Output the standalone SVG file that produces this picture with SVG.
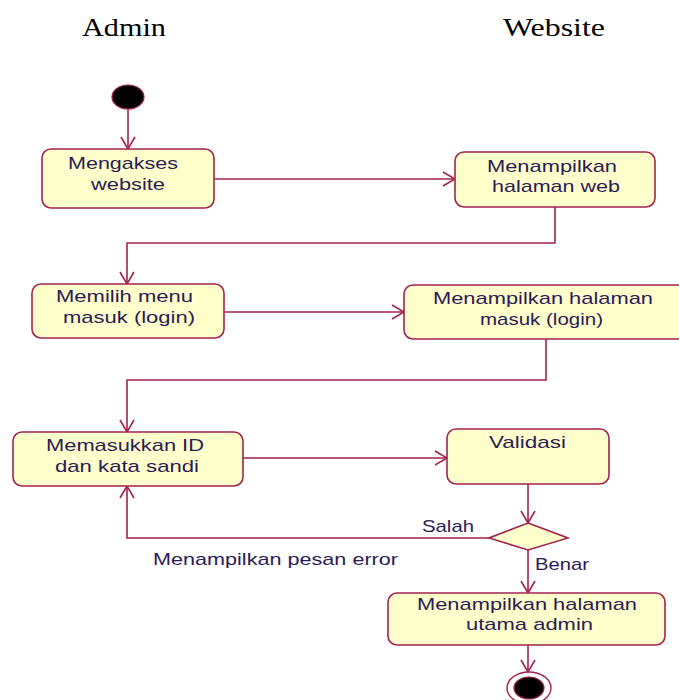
<svg xmlns="http://www.w3.org/2000/svg" width="679" height="700" viewBox="0 0 679 700">
<style>
.node{fill:#FFFFCC;stroke:#A3224F;stroke-width:1.6}
.t{font-family:"Liberation Sans",Arial,sans-serif;font-size:17px;fill:#2B1B55}
.h{font-family:"Liberation Serif","Times New Roman",serif;font-size:26px;fill:#000}
.c{fill:none;stroke:#A3224F;stroke-width:1.6}
.dot{fill:#000;stroke:#A3224F;stroke-width:1.2}
</style>
<defs>
<marker id="arr" markerUnits="userSpaceOnUse" markerWidth="14" markerHeight="16" viewBox="0 0 14 16" refX="13" refY="8" orient="auto">
<path d="M1,1 L13,8 L1,15" fill="none" stroke="#A3224F" stroke-width="1.6"/>
</marker>
</defs>
<rect width="679" height="700" fill="#fff"/>
<text class="h" x="82" y="36" textLength="84" lengthAdjust="spacingAndGlyphs">Admin</text>
<text class="h" x="503" y="36" textLength="102" lengthAdjust="spacingAndGlyphs">Website</text>
<g id="connectors">
<path class="c" d="M128,109 L128,149" marker-end="url(#arr)"/>
<path class="c" d="M214,179 L455,179" marker-end="url(#arr)"/>
<path class="c" d="M555,207 L555,243 L127,243 L127,284" marker-end="url(#arr)"/>
<path class="c" d="M224,312 L404,312" marker-end="url(#arr)"/>
<path class="c" d="M546,339 L546,380 L127,380 L127,432" marker-end="url(#arr)"/>
<path class="c" d="M243,458 L447,458" marker-end="url(#arr)"/>
<path class="c" d="M528,484 L528,523" marker-end="url(#arr)"/>
<path class="c" d="M489,538 L127,538 L127,486" marker-end="url(#arr)"/>
<path class="c" d="M528,550 L528,593" marker-end="url(#arr)"/>
<path class="c" d="M528,645 L528,672" marker-end="url(#arr)"/>
<text class="t" x="422" y="532" textLength="52" lengthAdjust="spacingAndGlyphs">Salah</text>
<text class="t" x="535" y="570" textLength="54" lengthAdjust="spacingAndGlyphs">Benar</text>
<text class="t" x="153" y="565" textLength="245" lengthAdjust="spacingAndGlyphs">Menampilkan pesan error</text>
</g>
<g id="start">
<ellipse class="dot" cx="128" cy="97" rx="16" ry="12"/>
</g>
<g id="n1">
<rect class="node" x="42" y="149" width="172" height="59" rx="9"/>
<text class="t" x="68" y="169" textLength="110" lengthAdjust="spacingAndGlyphs">Mengakses</text>
<text class="t" x="91" y="190" textLength="74" lengthAdjust="spacingAndGlyphs">website</text>
</g>
<g id="n2">
<rect class="node" x="455" y="152" width="200" height="55" rx="9"/>
<text class="t" x="487" y="172" textLength="130" lengthAdjust="spacingAndGlyphs">Menampilkan</text>
<text class="t" x="492" y="192" textLength="128" lengthAdjust="spacingAndGlyphs">halaman web</text>
</g>
<g id="n3">
<rect class="node" x="32" y="284" width="192" height="54" rx="9"/>
<text class="t" x="56" y="302" textLength="137" lengthAdjust="spacingAndGlyphs">Memilih menu</text>
<text class="t" x="63" y="323" textLength="132" lengthAdjust="spacingAndGlyphs">masuk (login)</text>
</g>
<g id="n4">
<rect class="node" x="404" y="285" width="285" height="54" rx="9"/>
<text class="t" x="433" y="304" textLength="220" lengthAdjust="spacingAndGlyphs">Menampilkan halaman</text>
<text class="t" x="480" y="325" textLength="123" lengthAdjust="spacingAndGlyphs">masuk (login)</text>
</g>
<g id="n5">
<rect class="node" x="13" y="432" width="230" height="54" rx="9"/>
<text class="t" x="46" y="451" textLength="158" lengthAdjust="spacingAndGlyphs">Memasukkan ID</text>
<text class="t" x="55" y="472" textLength="144" lengthAdjust="spacingAndGlyphs">dan kata sandi</text>
</g>
<g id="n6">
<rect class="node" x="447" y="429" width="162" height="55" rx="9"/>
<text class="t" x="489" y="448" textLength="77" lengthAdjust="spacingAndGlyphs">Validasi</text>
</g>
<g id="decision">
<polygon class="node" points="528,523 568,538 528,550 489,538"/>
</g>
<g id="n7">
<rect class="node" x="388" y="593" width="277" height="52" rx="9"/>
<text class="t" x="417" y="610" textLength="220" lengthAdjust="spacingAndGlyphs">Menampilkan halaman</text>
<text class="t" x="466" y="630" textLength="127" lengthAdjust="spacingAndGlyphs">utama admin</text>
</g>
<g id="end">
<ellipse cx="529" cy="688" rx="22" ry="16" fill="#fff" stroke="#A3224F" stroke-width="1.4"/>
<ellipse class="dot" cx="529" cy="688" rx="15" ry="11"/>
</g>
</svg>
